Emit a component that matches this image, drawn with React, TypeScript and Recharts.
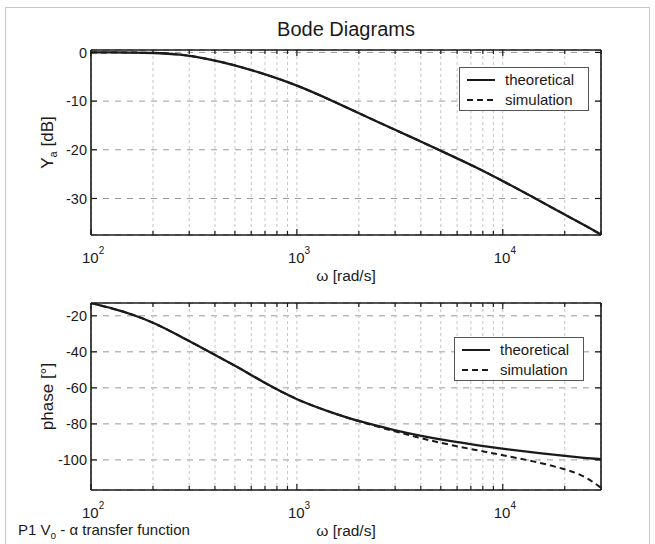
import React from 'react';
import { LineChart, Line, XAxis, YAxis, CartesianGrid, Legend } from 'recharts';

// ---------- data ----------
const omega = [100, 130, 160, 200, 270, 370, 500, 700, 1000, 1500, 2000, 3000, 4000, 5500, 7700, 10000, 14000, 20000, 25000, 30000];
const magTheoretical = [0, 0, -0.02, -0.08, -0.35, -1.3, -2.6, -4.45, -6.7, -10.0, -12.5, -15.9, -18.3, -21.0, -23.9, -26.4, -29.7, -33.3, -35.5, -37.4];
const magSimulation = [0, 0, -0.02, -0.08, -0.35, -1.3, -2.6, -4.45, -6.7, -10.0, -12.5, -15.9, -18.3, -21.0, -23.9, -26.4, -29.7, -33.3, -35.5, -37.4];
const phaseTheoretical = [-12.9, -16.2, -19.4, -23.6, -31.2, -39.6, -47.6, -57.4, -66.8, -74.0, -78.6, -83.6, -86.7, -89.5, -92.0, -93.8, -95.9, -97.8, -98.9, -99.6];
const phaseSimulation = [-12.9, -16.2, -19.4, -23.6, -31.2, -39.6, -47.6, -57.4, -66.8, -74.0, -78.7, -84.2, -88.0, -91.6, -94.9, -97.4, -100.6, -105.0, -108.8, -115.5];

const xTicks = [100, 200, 300, 400, 500, 600, 700, 800, 900, 1000, 2000, 3000, 4000, 5000, 6000, 7000, 8000, 9000, 10000, 20000, 30000];
const xMajorTicks = [100, 1000, 10000];
const magTicks = [-30, -20, -10, 0];
const phaseTicks = [-100, -80, -60, -40, -20];
const xDomain = [100, 30000];
const magDomain = [-37.5, 0.5];
const phaseDomain = [-116.7, -12.9];
const seriesNames = ['theoretical', 'simulation'];

const titleText = 'Bode Diagrams';
const xLabelText = 'ω [rad/s]';
const captionText = ' - α transfer function';

const magData = omega.map((w, i) => ({ w, theoretical: magTheoretical[i], simulation: magSimulation[i] }));
const phaseData = omega.map((w, i) => ({ w, theoretical: phaseTheoretical[i], simulation: phaseSimulation[i] }));

// ---------- styling ----------
const FONT = '"Liberation Sans", Arial, Helvetica, sans-serif';
const INK = '#1a1a1a';

const XTickBottom = (p: any) => {
  const { x, y, payload } = p;
  const v = payload.value;
  const major = xMajorTicks.includes(v);
  const exp = Math.round(Math.log10(v));
  return (
    <g>
      <line x1={x} x2={x} y1={y} y2={y - (major ? 6 : 4)} stroke={INK} strokeWidth={1.2} />
      {major ? (
        <text x={x - 9} y={y + 28} fontSize={15} fill={INK} fontFamily={FONT}>
          10<tspan dy={-9} fontSize={10}>{exp}</tspan>
        </text>
      ) : null}
    </g>
  );
};

const XTickTop = (p: any) => {
  const { x, y, payload } = p;
  const major = xMajorTicks.includes(payload.value);
  return <line x1={x} x2={x} y1={y} y2={y + (major ? 6 : 4)} stroke={INK} strokeWidth={1.2} />;
};

const YTickLeft = (p: any) => {
  const { x, y, payload } = p;
  return (
    <g>
      <line x1={x} x2={x + 6} y1={y} y2={y} stroke={INK} strokeWidth={1.2} />
      <text x={x - 4} y={y} dy="0.36em" textAnchor="end" fontSize={14.5} fill={INK} fontFamily={FONT}>
        {payload.value}
      </text>
    </g>
  );
};

const YTickRight = (p: any) => {
  const { x, y } = p;
  return <line x1={x} x2={x - 6} y1={y} y2={y} stroke={INK} strokeWidth={1.2} />;
};

const LegendBox = (props: any) => {
  const items = [...(props.payload || [])].sort(
    (a: any, b: any) => seriesNames.indexOf(a.value) - seriesNames.indexOf(b.value)
  );
  return (
    <svg width={130} height={44} style={{ display: 'block' }}>
      <rect x={0.5} y={0.5} width={129} height={43} fill="#fff" stroke="#555" strokeWidth={1} />
      {items.map((it: any, i: number) => (
        <g key={i}>
          <line
            x1={8}
            x2={36}
            y1={13 + 20 * i}
            y2={13 + 20 * i}
            stroke={INK}
            strokeWidth={2}
            strokeDasharray={it.payload && it.payload.strokeDasharray}
          />
          <text x={46} y={13 + 20 * i} dy="0.36em" fontSize={15} fill={INK} fontFamily={FONT}>
            {it.value}
          </text>
        </g>
      ))}
    </svg>
  );
};

const vb = (p: any, fallback: any) => p.viewBox || fallback;

const TitleLabel = (p: any) => {
  const v = vb(p, { x: 91, y: 49, width: 510, height: 1 });
  return (
    <text x={v.x + v.width / 2} y={v.y + v.height - 14} textAnchor="middle" fontSize={20} fill={INK} fontFamily={FONT}>
      {titleText}
    </text>
  );
};

const XLabel = (p: any) => {
  const v = vb(p, { x: 91, y: 235, width: 510, height: 1 });
  return (
    <text x={v.x + v.width / 2} y={v.y + 46} textAnchor="middle" fontSize={15.5} fill={INK} fontFamily={FONT}>
      {xLabelText}
    </text>
  );
};

const XLabelWithCaption = (p: any) => {
  const v = vb(p, { x: 91, y: 200, width: 510, height: 1 });
  return (
    <g>
      <text x={v.x + v.width / 2} y={v.y + 46} textAnchor="middle" fontSize={15.5} fill={INK} fontFamily={FONT}>
        {xLabelText}
      </text>
      <text x={v.x - 73} y={v.y + 45} fontSize={15} fill={INK} fontFamily={FONT}>
        P1 V<tspan dy={4} fontSize={10}>o</tspan>
        <tspan dy={-4}>{captionText}</tspan>
      </text>
    </g>
  );
};

const makeYLabel = (main: string, sub: string, rest: string) => (p: any) => {
  const v = vb(p, { x: 90, y: 50, width: 1, height: 185 });
  const cx = v.x + v.width - 38;
  const cy = v.y + v.height / 2;
  return (
    <text
      x={cx}
      y={cy}
      transform={`rotate(-90, ${cx}, ${cy})`}
      textAnchor="middle"
      fontSize={17}
      fill={INK}
      fontFamily={FONT}
    >
      {main}
      {sub ? <tspan dy={4} fontSize={11}>{sub}</tspan> : null}
      {rest ? <tspan dy={sub ? -4 : 0}>{rest}</tspan> : null}
    </text>
  );
};

const MagYLabel = makeYLabel('Y', 'a', ' [dB]');
const PhaseYLabel = makeYLabel('phase [°]', '', '');

const axisLine = { stroke: INK, strokeWidth: 1.6 };

function Panel(props: {
  data: any[];
  yDomain: number[];
  yTicks: number[];
  height: number;
  margin: any;
  legendPos: any;
  yLabel: any;
  xLabel: any;
  title?: boolean;
}) {
  const { data, yDomain, yTicks, height, margin, legendPos, yLabel, xLabel, title } = props;
  return (
    <LineChart width={655} height={height} data={data} margin={margin}>
      <CartesianGrid vertical={false} stroke="#9a9a9a" strokeDasharray="6 6" strokeWidth={1} />
      <CartesianGrid horizontal={false} stroke="#c4c4c4" strokeDasharray="3 3" strokeWidth={1} />
      <XAxis
        dataKey="w"
        type="number"
        scale="log"
        domain={xDomain}
        allowDataOverflow
        ticks={xTicks}
        interval={0}
        height={1}
        tickSize={0}
        tickMargin={0}
        tick={XTickBottom}
        axisLine={axisLine}
        tickLine={false}
        label={{ content: xLabel }}
      />
      <XAxis
        xAxisId="top"
        orientation="top"
        dataKey="w"
        type="number"
        scale="log"
        domain={xDomain}
        allowDataOverflow
        ticks={xTicks}
        interval={0}
        height={1}
        tickSize={0}
        tickMargin={0}
        tick={XTickTop}
        axisLine={axisLine}
        tickLine={false}
        label={title ? { content: TitleLabel } : undefined}
      />
      <YAxis
        type="number"
        domain={yDomain}
        allowDataOverflow
        ticks={yTicks}
        interval={0}
        width={1}
        tickSize={0}
        tickMargin={0}
        tick={YTickLeft}
        axisLine={axisLine}
        tickLine={false}
        label={{ content: yLabel }}
      />
      <YAxis
        yAxisId="right"
        orientation="right"
        type="number"
        domain={yDomain}
        allowDataOverflow
        ticks={yTicks}
        interval={0}
        width={1}
        tickSize={0}
        tickMargin={0}
        tick={YTickRight}
        axisLine={axisLine}
        tickLine={false}
      />
      <Line
        dataKey="theoretical"
        name={seriesNames[0]}
        type="basis"
        stroke={INK}
        strokeWidth={2.3}
        dot={false}
        isAnimationActive={false}
      />
      <Line
        dataKey="simulation"
        name={seriesNames[1]}
        type="basis"
        stroke={INK}
        strokeWidth={2}
        strokeDasharray="6 4"
        dot={false}
        isAnimationActive={false}
      />
      <Legend
        layout="vertical"
        align="center"
        verticalAlign="middle"
        wrapperStyle={legendPos}
        content={LegendBox}
      />
    </LineChart>
  );
}

export default function App() {
  return (
    <div
      style={{
        position: 'absolute',
        left: 0,
        top: 0,
        width: 655,
        height: 544,
        background: '#fff',
        overflow: 'hidden',
        fontFamily: FONT,
      }}
    >
      <div
        style={{
          position: 'absolute',
          left: 5,
          top: 7,
          width: 643,
          height: 560,
          border: '1px solid #c8c8c8',
        }}
      />
      <div style={{ position: 'absolute', left: 0, top: 0 }}>
        <Panel
          data={magData}
          yDomain={magDomain}
          yTicks={magTicks}
          height={290}
          margin={{ top: 49, right: 53, bottom: 54, left: 90 }}
          legendPos={{ left: 459, top: 67, width: 130, height: 44 }}
          yLabel={MagYLabel}
          xLabel={XLabel}
          title
        />
      </div>
      <div style={{ position: 'absolute', left: 0, top: 290 }}>
        <Panel
          data={phaseData}
          yDomain={phaseDomain}
          yTicks={phaseTicks}
          height={254}
          margin={{ top: 12, right: 53, bottom: 53, left: 90 }}
          legendPos={{ left: 454, top: 47, width: 130, height: 44 }}
          yLabel={PhaseYLabel}
          xLabel={XLabelWithCaption}
        />
      </div>
    </div>
  );
}
